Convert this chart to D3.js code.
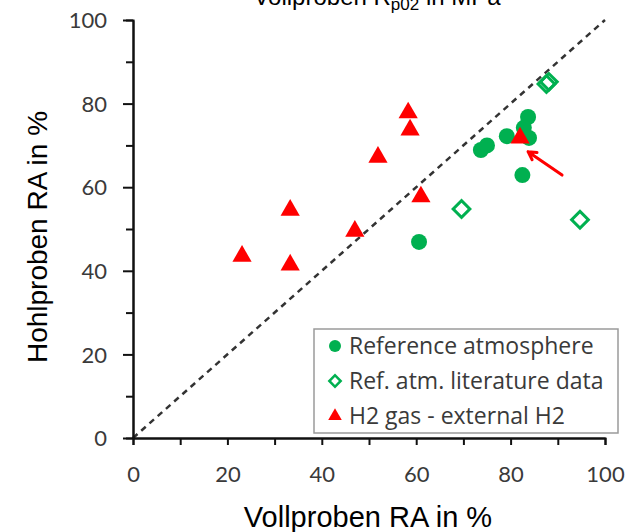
<!DOCTYPE html>
<html>
<head>
<meta charset="utf-8">
<script src="https://cdn.jsdelivr.net/npm/d3@7"></script>
<style>
  html, body { margin: 0; padding: 0; background: #fff; }
  svg { display: block; }
</style>
</head>
<body>
<script>
// Reference atmosphere (filled circles)
const refAtmX = [60.6, 73.7, 75.0, 79.2, 83.7, 82.8, 83.9, 82.5];
const refAtmY = [46.9, 68.9, 70.0, 72.2, 76.8, 74.2, 71.8, 62.9];
// Reference atmosphere, literature data (open diamonds)
const litX = [87.6, 88.1, 69.6, 94.7];
const litY = [84.7, 85.2, 54.8, 52.2];
// H2 gas - external H2 (triangles)
const h2X = [23.1, 33.3, 33.3, 47.0, 51.9, 58.3, 58.7, 61.0, 82.0];
const h2Y = [43.5, 54.5, 41.4, 49.5, 67.2, 77.8, 73.7, 57.7, 71.8];
// Axis ticks
const majorTicks = [0, 20, 40, 60, 80, 100];
const minorTicks = [10, 30, 50, 70, 90];
// Pointer arrow (from -> to) in data units
const arrowFrom = [90.9, 62.9];
const arrowTo = [83.7, 68.5];
// Legend entries
const legendLabels = ["Reference atmosphere", "Ref. atm. literature data", "H2 gas - external H2"];

const W = 626, H = 532;
const green = "#00B050", red = "#FF0000", ink = "#3a3a3a";
const tickFont = "Lato, 'Open Sans', sans-serif";
const legendFont = "'Open Sans', Lato, sans-serif";
const titleFont = "'Liberation Sans', Arial, sans-serif";

const svg = d3.select("body").append("svg").attr("width", W).attr("height", H);

const x = d3.scaleLinear().domain([0, 100]).range([133, 605]);
const y = d3.scaleLinear().domain([0, 100]).range([438, 20]);

// Title (clipped at the top edge)
const title = svg.append("text")
  .attr("x", 377).attr("y", 5)
  .attr("text-anchor", "middle")
  .attr("font-family", titleFont).attr("font-size", 24).attr("fill", "#000");
title.append("tspan").text("Vollproben R");
title.append("tspan").attr("font-size", 17).attr("dy", 5).text("p02");
title.append("tspan").attr("dy", -5).text(" in MPa");

// 1:1 diagonal
svg.append("line")
  .attr("x1", x(0)).attr("y1", y(0)).attr("x2", x(100)).attr("y2", y(100))
  .attr("stroke", "#333").attr("stroke-width", 2.5).attr("stroke-dasharray", "6,5");

// Y axis
const yMinor = svg.append("g").attr("transform", `translate(${x(0)},0)`)
  .call(d3.axisLeft(y).tickValues(minorTicks).tickSize(7).tickFormat(""));
const yMajor = svg.append("g").attr("transform", `translate(${x(0)},0)`)
  .call(d3.axisLeft(y).tickValues(majorTicks).tickSize(10).tickPadding(16).tickSizeOuter(0));
// X axis
const xMinor = svg.append("g").attr("transform", `translate(0,${y(0)})`)
  .call(d3.axisBottom(x).tickValues(minorTicks).tickSize(7).tickFormat(""));
const xMajor = svg.append("g").attr("transform", `translate(0,${y(0)})`)
  .call(d3.axisBottom(x).tickValues(majorTicks).tickSize(7).tickPadding(21).tickSizeOuter(0));

[yMinor, yMajor, xMinor, xMajor].forEach(g => {
  g.select(".domain").attr("stroke", "#111").attr("stroke-width", 2);
  g.selectAll(".tick line").attr("stroke", "#111").attr("stroke-width", 2);
  g.selectAll(".tick text").attr("font-family", tickFont).attr("font-size", 22).attr("fill", ink);
});
yMajor.selectAll(".tick text").attr("dy", "0.35em");

// Axis titles
svg.append("text")
  .attr("x", 368).attr("y", 527).attr("text-anchor", "middle")
  .attr("font-family", titleFont).attr("font-size", 29).attr("fill", "#000")
  .text("Vollproben RA in %");
svg.append("text")
  .attr("transform", `translate(37,237) rotate(-90)`)
  .attr("text-anchor", "middle").attr("dominant-baseline", "central")
  .attr("font-family", titleFont).attr("font-size", 28).attr("fill", "#000")
  .text("Hohlproben RA in %");

// Markers
const diamond = d3.symbol().type(d3.symbolSquare);
const tri = d3.symbol().type(d3.symbolTriangle);

svg.append("g").selectAll("circle").data(d3.range(refAtmX.length)).join("circle")
  .attr("cx", i => x(refAtmX[i])).attr("cy", i => y(refAtmY[i])).attr("r", 8)
  .attr("fill", green);

svg.append("g").selectAll("path").data(d3.range(litX.length)).join("path")
  .attr("d", diamond.size(140)())
  .attr("transform", i => `translate(${x(litX[i])},${y(litY[i])}) rotate(45)`)
  .attr("fill", "none").attr("stroke", green).attr("stroke-width", 3);

svg.append("g").selectAll("path").data(d3.range(h2X.length)).join("path")
  .attr("d", tri.size(160)())
  .attr("transform", i => `translate(${x(h2X[i])},${y(h2Y[i])})`)
  .attr("fill", red);

// Arrow pointing at the highlighted H2 point
const ax1 = x(arrowFrom[0]), ay1 = y(arrowFrom[1]);
const ax2 = x(arrowTo[0]), ay2 = y(arrowTo[1]);
const ang = Math.atan2(ay2 - ay1, ax2 - ax1);
const headLen = 9, spread = 0.5;
svg.append("path")
  .attr("d", `M${ax1},${ay1}L${ax2},${ay2}` +
    `M${ax2 - headLen * Math.cos(ang - spread)},${ay2 - headLen * Math.sin(ang - spread)}` +
    `L${ax2},${ay2}` +
    `L${ax2 - headLen * Math.cos(ang + spread)},${ay2 - headLen * Math.sin(ang + spread)}`)
  .attr("fill", "none").attr("stroke", red).attr("stroke-width", 3)
  .attr("stroke-linecap", "round").attr("stroke-linejoin", "round");

// Legend
const lg = svg.append("g");
lg.append("rect").attr("x", 314).attr("y", 329).attr("width", 304).attr("height", 104)
  .attr("fill", "#fff").attr("stroke", "#9a9a9a").attr("stroke-width", 1.5);
const rowY = i => 346 + i * 35;
lg.append("circle").attr("cx", 335).attr("cy", rowY(0)).attr("r", 6).attr("fill", green);
lg.append("path").attr("d", diamond.size(64)())
  .attr("transform", `translate(335,${rowY(1)}) rotate(45)`)
  .attr("fill", "none").attr("stroke", green).attr("stroke-width", 2.5);
lg.append("path").attr("d", tri.size(80)())
  .attr("transform", `translate(335,${rowY(2)})`).attr("fill", red);
lg.selectAll("text.lbl").data(legendLabels).join("text").attr("class", "lbl")
  .attr("x", 349).attr("y", (d, i) => rowY(i)).attr("dy", "0.35em")
  .attr("font-family", legendFont).attr("font-size", 23).attr("fill", ink)
  .text(d => d);
</script>
</body>
</html>
